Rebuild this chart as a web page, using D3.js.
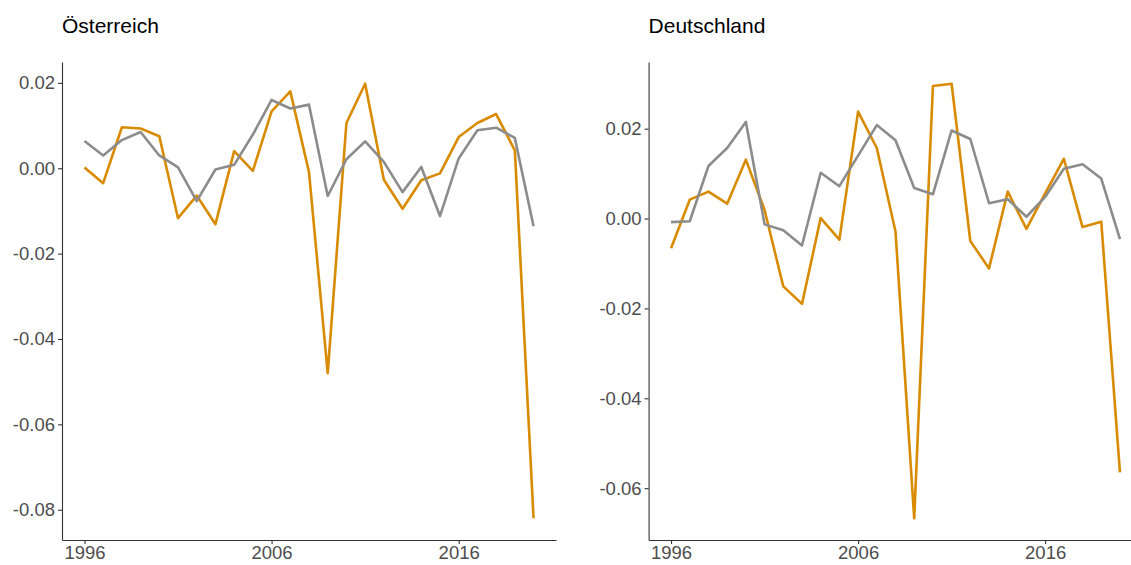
<!DOCTYPE html>
<html>
<head>
<meta charset="utf-8">
<script src="https://cdn.jsdelivr.net/npm/d3@7"></script>
<style>
  body { margin: 0; background: #fff; }
  svg { display: block; font-family: "Liberation Sans", Arial, sans-serif; }
</style>
</head>
<body>
<div id="chart-container"></div>
<script>
// Data: years and series values for each country
const years = d3.range(1996, 2021);
const tickYears = [1996, 2006, 2016];

const at_orange = [0.0002, -0.0035, 0.0096, 0.0093, 0.0075, -0.0117, -0.0064, -0.0131, 0.0040, -0.0006,
  0.0133, 0.0180, -0.0009, -0.0480, 0.0106, 0.0198, -0.0027, -0.0095, -0.0028, -0.0012,
  0.0073, 0.0106, 0.0127, 0.0042, -0.0820];
const at_grey = [0.0064, 0.0030, 0.0066, 0.0085, 0.0030, 0.0002, -0.0077, -0.0003, 0.0008, 0.0079,
  0.0160, 0.0140, 0.0149, -0.0065, 0.0021, 0.0063, 0.0015, -0.0056, 0.0003, -0.0112,
  0.0023, 0.0089, 0.0095, 0.0071, -0.0136];
const at_ticks = [0.02, 0.00, -0.02, -0.04, -0.06, -0.08];

const de_orange = [-0.0066, 0.0042, 0.0060, 0.0033, 0.0131, 0.0019, -0.0151, -0.0190, 0.0001, -0.0047,
  0.0238, 0.0157, -0.0029, -0.0667, 0.0295, 0.0300, -0.0050, -0.0111, 0.0060, -0.0023,
  0.0056, 0.0133, -0.0019, -0.0007, -0.0565];
const de_grey = [-0.0008, -0.0006, 0.0117, 0.0157, 0.0215, -0.0013, -0.0026, -0.0060, 0.0102, 0.0072,
  0.0140, 0.0208, 0.0174, 0.0068, 0.0054, 0.0196, 0.0177, 0.0034, 0.0043, 0.0004,
  0.0048, 0.0111, 0.0121, 0.0089, -0.0046];
const de_ticks = [0.02, 0.00, -0.02, -0.04, -0.06];

const panels = [
  { title: "Österreich", orange: at_orange, grey: at_grey, ticks: at_ticks, x0: 62, x1: 556 },
  { title: "Deutschland", orange: de_orange, grey: de_grey, ticks: de_ticks, x0: 648.6, x1: 1142.4 }
];

const W = 1131, H = 565;
const plotTop = 62, plotBottom = 540;

const svg = d3.select("#chart-container")
  .append("svg")
  .attr("width", W)
  .attr("height", H);

// plain hyphen for negatives, like the reference
const fmtY = d => d3.format(".2f")(d).replace("\u2212", "-");

panels.forEach(p => {
  // ggplot-style 5% expansion on both axes
  const xPad = (2020 - 1996) * 0.05;
  const x = d3.scaleLinear()
    .domain([1996 - xPad, 2020 + xPad])
    .range([p.x0, p.x1]);

  const all = p.orange.concat(p.grey);
  const [mn, mx] = d3.extent(all);
  const yPad = (mx - mn) * 0.05;
  const y = d3.scaleLinear()
    .domain([mn - yPad, mx + yPad])
    .range([plotBottom, plotTop]);

  const g = svg.append("g");

  // Title
  g.append("text")
    .attr("x", p.x0)
    .attr("y", 33)
    .style("font-size", "21px")
    .style("fill", "#000")
    .text(p.title);

  // Y axis
  g.append("g")
    .attr("transform", `translate(${p.x0},0)`)
    .call(d3.axisLeft(y)
      .tickValues(p.ticks)
      .tickFormat(fmtY)
      .tickSize(4)
      .tickSizeOuter(0)
      .tickPadding(3))
    .call(a => a.select(".domain").attr("stroke", "#333").attr("stroke-width", 1.1))
    .call(a => a.selectAll(".tick line").attr("stroke", "#333").attr("stroke-width", 1.1))
    .call(a => a.selectAll(".tick text")
      .attr("fill", "#4D4D4D")
      .style("font-size", "18.5px")
      .style("font-family", "'Liberation Sans', Arial, sans-serif"));

  // X axis
  g.append("g")
    .attr("transform", `translate(0,${plotBottom})`)
    .call(d3.axisBottom(x)
      .tickValues(tickYears)
      .tickFormat(d3.format("d"))
      .tickSize(4)
      .tickSizeOuter(0)
      .tickPadding(2))
    .call(a => a.select(".domain").attr("stroke", "#333").attr("stroke-width", 1.1))
    .call(a => a.selectAll(".tick line").attr("stroke", "#333").attr("stroke-width", 1.1))
    .call(a => a.selectAll(".tick text")
      .attr("fill", "#4D4D4D")
      .style("font-size", "18.5px")
      .style("font-family", "'Liberation Sans', Arial, sans-serif"));

  const line = d3.line()
    .x((d, i) => x(years[i]))
    .y(d => y(d));

  // Orange series
  g.append("path")
    .datum(p.orange)
    .attr("fill", "none")
    .attr("stroke", "#D98B00")
    .attr("stroke-width", 2.6)
    .attr("stroke-linejoin", "round")
    .attr("d", line);

  // Grey series
  g.append("path")
    .datum(p.grey)
    .attr("fill", "none")
    .attr("stroke", "#8C8C8C")
    .attr("stroke-width", 2.6)
    .attr("stroke-linejoin", "round")
    .attr("d", line);
});
</script>
</body>
</html>
